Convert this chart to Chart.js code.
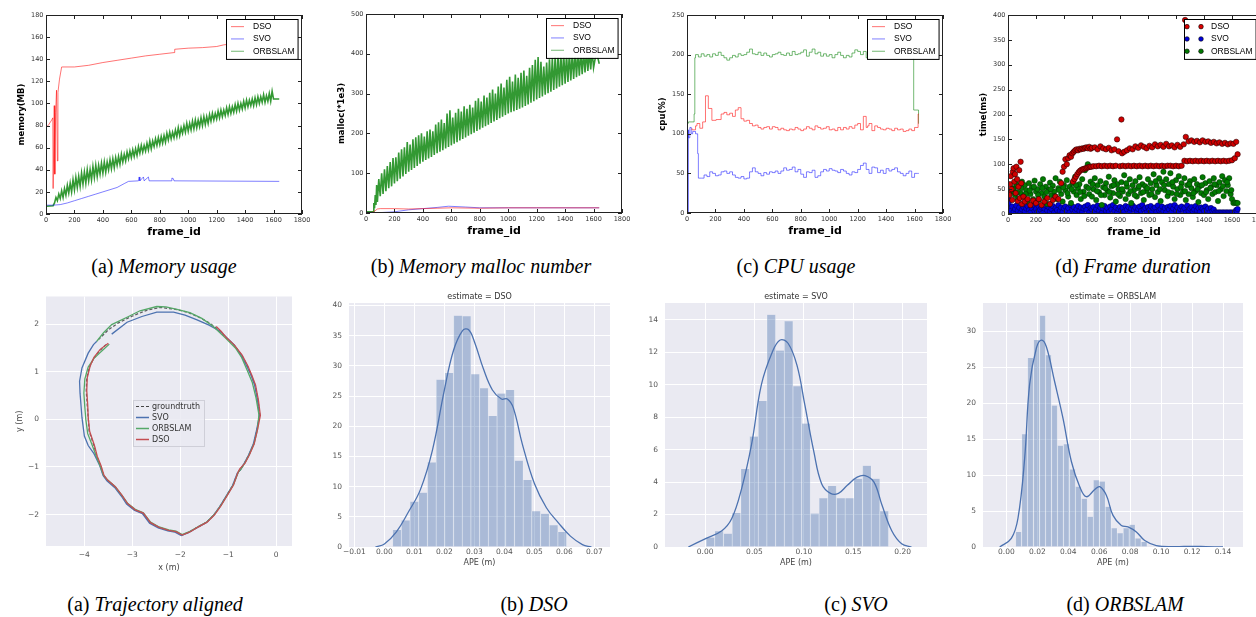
<!DOCTYPE html>
<html>
<head>
<meta charset="utf-8">
<script src="https://cdn.jsdelivr.net/npm/chart.js@4.4.1/dist/chart.umd.min.js"></script>
<style>
  body { margin: 0; width: 1256px; height: 617px; overflow: hidden; background: #fff; position: relative; }
  canvas { position: absolute; }
  .cap { position: absolute; font-family: "Liberation Serif", serif; font-size: 20px; line-height: 22px;
         white-space: nowrap; transform: translateX(-50%); color: #000; }
</style>
</head>
<body>
<canvas id="memChart"></canvas>
<canvas id="mallocChart"></canvas>
<canvas id="cpuChart"></canvas>
<canvas id="timeChart"></canvas>
<canvas id="trajChart"></canvas>
<canvas id="dsoChart"></canvas>
<canvas id="svoChart"></canvas>
<canvas id="orbChart"></canvas>

<div class="cap" style="left:164px;top:255px">(a) <i>Memory usage</i></div>
<div class="cap" style="left:481px;top:255px">(b) <i>Memory malloc number</i></div>
<div class="cap" style="left:796px;top:255px">(c) <i>CPU usage</i></div>
<div class="cap" style="left:1133px;top:255px">(d) <i>Frame duration</i></div>
<div class="cap" style="left:155px;top:593px">(a) <i>Trajectory aligned</i></div>
<div class="cap" style="left:534px;top:593px">(b) <i>DSO</i></div>
<div class="cap" style="left:856px;top:593px">(c) <i>SVO</i></div>
<div class="cap" style="left:1125px;top:593px">(d) <i>ORBSLAM</i></div>

<script>
// ---- top row data: [frame_id, value] ----
const frameTicks = [0, 200, 400, 600, 800, 1000, 1200, 1400, 1600, 1800];
const memTicks = [0, 20, 40, 60, 80, 100, 120, 140, 160, 180];
const mallocTicks = [0, 100, 200, 300, 400, 500];
const cpuTicks = [0, 50, 100, 150, 200, 250];
const timeTicks = [0, 50, 100, 150, 200, 250, 300, 350, 400];

const memDso = [[0,78],[20,81],[40,85],[48,87],[50,23],[58,98],[62,36],[68,92],[74,112],[80,48],[84,110],[95,122],[110,133],
  [200,133],[300,134.5],[400,137],[500,139],[600,141],[700,143],[800,144.5],[900,146],[905,149],[1000,150],[1100,150.5],
  [1200,151.5],[1250,153],[1400,155],[1640,158]];
const memSvo = [[0,8],[50,8],[100,8.5],[150,10],[200,12],[250,14],[300,16],[350,18],[400,20],[450,22],[500,24],[550,27.5],
  [580,29.5],[650,30],[655,33.5],[660,30],[685,33.5],[690,30],[720,33.5],[725,30],[880,30],[885,32.5],[895,32],[900,30],[1640,29.5]];
const memOrb = [[0,7],[50,7.5],[60,10],[70,15],[80,12],[90,18],[100,14],[110,21],[120,15],[130,23],[140,17],[150,26],
  [160,19],[170,28],[180,20],[190,31],[200,22],[210,33],[220,24],[230,34],[240,25],[250,37],[260,27],[270,38],[280,28],
  [290,40],[300,30],[310,40],[320,31],[330,43],[340,33],[350,44],[360,34],[370,44],[380,36],[390,46],[400,37],[410,47],
  [420,38],[430,47],[440,40],[450,49],[460,41],[470,50],[480,42],[490,51],[500,44],[510,52],[520,45],[530,54],[540,47],
  [550,54],[560,48],[570,56],[580,50],[590,57],[600,51],[610,58],[620,52],[630,59],[640,53],[650,61],[660,55],[670,62],
  [680,56],[690,62],[700,57],[710,64],[720,58],[730,66],[740,59],[750,66],[760,61],[770,68],[780,62],[790,69],[800,63],
  [810,70],[820,64],[830,71],[840,65],[850,73],[860,67],[870,74],[880,68],[890,74],[900,69],[910,76],[920,70],[930,78],
  [940,71],[950,78],[960,73],[970,80],[980,74],[990,82],[1000,75],[1010,82],[1020,76],[1030,84],[1040,77],[1050,85],
  [1060,78],[1070,85],[1080,79],[1090,87],[1100,80],[1110,88],[1120,81],[1130,88],[1140,82],[1150,90],[1160,84],[1170,91],
  [1180,85],[1190,91],[1200,86],[1210,93],[1220,87],[1230,94],[1240,88],[1250,94],[1260,89],[1270,96],[1280,90],[1290,97],
  [1300,91],[1310,97],[1320,92],[1330,99],[1340,93],[1350,100],[1360,94],[1370,100],[1380,95],[1390,102],[1400,96],
  [1410,103],[1420,97],[1430,103],[1440,98],[1450,104],[1460,98],[1470,105],[1480,99],[1490,106],[1500,100],[1510,106],
  [1520,101],[1530,108],[1540,101],[1550,107],[1560,102],[1570,109],[1580,102],[1590,111],[1600,104],[1640,104]];

const mallocDso = [[0,0],[50,2],[80,10],[100,11],[200,11],[300,10],[400,11],[500,12],[600,13],[800,12],[1000,13],[1200,13],[1400,13],[1640,13]];
const mallocSvo = [[0,0],[50,0],[100,1],[200,3],[300,8],[400,11],[500,14],[580,17],[700,15],[800,13],[1000,13],[1640,13]];
const mallocOrb = [[0,3],[50,3],[55,25],[60,12],[65,45],[70,20],[75,70],[80,28],[90,85],[100,42],[110,100],[120,48],
  [130,110],[140,55],[150,118],[160,62],[170,128],[180,67],[190,138],[200,74],[210,140],[220,80],[230,152],[240,86],
  [250,160],[260,92],[270,165],[280,98],[290,178],[300,104],[310,172],[320,108],[330,185],[340,113],[350,190],[360,118],
  [370,195],[380,124],[390,200],[400,129],[410,192],[420,133],[430,205],[440,137],[450,210],[460,141],[470,205],[480,146],
  [490,222],[500,150],[510,228],[520,154],[530,235],[540,158],[550,226],[560,162],[570,250],[580,166],[590,258],[600,170],
  [610,240],[620,174],[630,252],[640,178],[650,262],[660,182],[670,255],[680,186],[690,268],[700,190],[710,262],[720,194],
  [730,272],[740,198],[750,265],[760,202],[770,282],[780,206],[790,288],[800,210],[810,280],[820,214],[830,295],[840,218],
  [850,290],[860,222],[870,302],[880,226],[890,310],[900,230],[910,300],[920,234],[930,318],[940,238],[950,325],[960,242],
  [970,315],[980,246],[990,335],[1000,250],[1010,342],[1020,253],[1030,330],[1040,256],[1050,348],[1060,259],[1070,340],
  [1080,262],[1090,352],[1100,265],[1110,358],[1120,269],[1130,345],[1140,273],[1150,365],[1160,277],[1170,372],[1180,281],
  [1190,385],[1200,285],[1210,392],[1220,289],[1230,380],[1240,293],[1250,368],[1260,297],[1270,378],[1280,301],[1290,386],
  [1300,305],[1310,390],[1320,309],[1330,395],[1340,313],[1350,398],[1360,317],[1370,400],[1380,321],[1390,402],[1400,325],
  [1410,398],[1420,329],[1430,404],[1440,333],[1450,402],[1460,337],[1470,406],[1480,341],[1490,404],[1500,345],[1510,407],
  [1520,349],[1530,405],[1540,353],[1550,408],[1560,357],[1570,406],[1580,361],[1590,410],[1600,365],[1620,405],[1640,375]];

const cpuDso = [[35,107],[60,105],[70,110],[90,113],[110,107],[130,115],[150,148],[175,132],[205,117],[240,118],[260,125],
  [280,127],[300,124],[320,126],[340,122],[360,130],[380,133],[400,119],[420,116],[440,117],[460,113],[480,110],[500,111],
  [520,108],[540,106],[560,108],[580,109],[600,106],[620,109],[640,108],[660,105],[680,107],[700,105],[720,104],[740,106],
  [760,105],[780,108],[800,106],[820,104],[840,106],[860,109],[880,107],[900,105],[920,110],[940,108],[960,106],[980,107],
  [1000,109],[1020,105],[1040,106],[1060,104],[1080,108],[1100,105],[1120,108],[1140,106],[1160,109],[1180,107],[1200,111],
  [1220,113],[1240,105],[1260,122],[1270,108],[1280,110],[1300,113],[1320,104],[1340,110],[1360,108],[1380,106],[1400,105],
  [1420,107],[1440,106],[1460,104],[1480,107],[1500,105],[1520,106],[1540,103],[1560,104],[1580,106],[1600,104],[1625,108],[1630,125]];
const cpuSvo = [[10,0],[11,105],[20,95],[30,108],[40,100],[60,103],[75,100],[80,75],[100,44],[120,44],[140,48],[160,46],
  [180,52],[200,50],[220,47],[240,48],[260,52],[280,53],[300,50],[320,52],[340,48],[360,45],[380,44],[400,46],[420,43],
  [440,44],[460,52],[480,57],[500,52],[520,50],[540,47],[560,51],[580,49],[600,52],[620,51],[640,53],[660,50],[680,53],
  [700,57],[720,54],[740,55],[760,58],[780,52],[800,55],[820,49],[840,45],[860,52],[880,51],[900,54],[920,45],[940,47],
  [960,52],[980,55],[1000,53],[1020,56],[1040,54],[1060,53],[1080,51],[1100,55],[1120,53],[1140,50],[1160,48],[1180,52],
  [1200,51],[1220,55],[1240,60],[1260,63],[1280,55],[1300,50],[1320,58],[1340,57],[1360,51],[1380,54],[1400,50],[1420,56],
  [1440,53],[1460,55],[1480,57],[1500,52],[1520,50],[1540,47],[1560,50],[1580,53],[1600,45],[1620,50],[1630,50]];
const cpuOrb = [[10,113],[50,115],[55,125],[60,196],[80,200],[100,197],[120,201],[140,198],[160,200],[180,197],[200,201],
  [220,199],[240,203],[260,199],[280,196],[300,193],[320,196],[340,199],[360,197],[380,201],[400,199],[420,200],[440,203],
  [460,207],[480,201],[500,200],[520,203],[540,199],[560,202],[580,199],[600,197],[620,200],[640,201],[660,203],[680,200],
  [700,199],[720,202],[740,199],[760,204],[780,200],[800,201],[820,203],[840,206],[860,198],[880,203],[900,207],[920,201],
  [940,203],[960,198],[980,201],[1000,198],[1020,200],[1040,196],[1060,200],[1080,203],[1100,199],[1120,196],[1140,199],
  [1160,197],[1180,202],[1200,206],[1220,204],[1240,200],[1260,204],[1280,196],[1300,201],[1340,199],[1400,202],[1460,198],
  [1520,201],[1594,200],[1595,130],[1628,130],[1630,113]];

const timeDso = [[5,45],[10,38],[15,60],[20,76],[25,50],[30,28],[35,85],[40,92],[45,65],[50,80],[55,42],[60,95],[65,70],
  [70,26],[75,55],[80,88],[85,32],[90,105],[95,62],[100,20],[110,35],[120,25],[140,30],[160,18],[180,27],[200,22],[220,30],
  [240,18],[260,25],[280,32],[300,20],[320,28],[340,35],[360,30],[380,62],[390,85],[400,95],[410,110],[420,100],[430,112],
  [440,118],[450,115],[460,122],[464,65],[470,125],[475,70],[480,128],[485,75],[490,130],[495,80],[500,128],[505,84],
  [510,131],[515,87],[520,130],[525,89],[530,132],[535,90],[540,131],[545,91],[550,133],[555,92],[560,134],[565,93],
  [570,132],[575,94],[580,135],[585,95],[590,131],[595,95],[600,133],[610,96],[620,134],[630,96],[640,130],[650,97],
  [660,136],[670,96],[680,132],[690,97],[700,130],[710,96],[720,133],[730,97],[740,128],[750,96],[760,130],[770,97],
  [779,150],[790,126],[800,96],[810,190],[815,122],[820,97],[830,125],[840,96],[850,128],[860,97],[870,132],[880,96],
  [890,130],[900,97],[910,136],[920,96],[930,133],[940,97],[950,138],[960,96],[970,135],[980,97],[990,132],[1000,96],
  [1010,137],[1020,97],[1030,134],[1040,96],[1050,140],[1060,97],[1070,136],[1080,96],[1090,139],[1100,97],[1110,135],
  [1120,96],[1130,141],[1140,97],[1150,136],[1160,97],[1170,138],[1180,96],[1190,134],[1200,97],[1210,139],[1220,96],
  [1230,135],[1240,97],[1255,140],[1260,107],[1265,390],[1270,155],[1280,106],[1290,146],[1300,107],[1310,148],[1320,106],
  [1330,145],[1340,107],[1350,147],[1360,106],[1370,144],[1380,107],[1390,148],[1400,106],[1410,145],[1420,107],[1430,146],
  [1440,106],[1450,143],[1460,107],[1470,145],[1480,106],[1490,142],[1500,107],[1510,144],[1520,106],[1530,141],[1540,107],
  [1550,143],[1560,106],[1570,140],[1580,107],[1590,142],[1600,108],[1610,141],[1620,112],[1630,145],[1640,120]];
const timeSvo = [[0,30],[5,22],[10,12],[20,6],[30,15],[40,4],[50,10],[60,17],[70,7],[80,13],[90,3],[100,9],
  [110,14],[120,5],[130,11],[140,16],[150,8],[160,3],[170,12],[180,18],[190,6],[200,10],
  [210,4],[220,15],[230,9],[240,13],[250,2],[260,11],[270,17],[280,7],[290,14],[300,5],
  [310,10],[320,16],[330,3],[340,12],[350,8],[360,18],[370,6],[380,13],[390,4],[400,11],
  [410,15],[420,7],[430,12],[440,3],[450,17],[460,9],[470,14],[480,5],[490,10],[500,16],
  [510,6],[520,13],[530,4],[540,11],[550,15],[560,8],[570,18],[580,3],[590,12],[600,9],
  [610,14],[620,5],[630,10],[640,17],[650,7],[660,13],[670,2],[680,11],[690,16],[700,6],
  [710,12],[720,4],[730,15],[740,9],[750,18],[760,6],[770,13],[780,3],[790,10],[800,14],
  [810,7],[820,12],[830,5],[840,16],[850,9],[860,14],[870,3],[880,11],[890,17],[900,8],
  [910,13],[920,4],[930,10],[940,15],[950,6],[960,18],[970,9],[980,12],[990,3],[1000,14],
  [1010,8],[1020,16],[1030,5],[1040,11],[1050,13],[1060,4],[1070,17],[1080,7],[1090,10],[1100,15],
  [1110,6],[1120,12],[1130,3],[1140,14],[1150,9],[1160,16],[1170,5],[1180,11],[1190,18],[1200,7],
  [1210,13],[1220,4],[1230,10],[1240,15],[1250,8],[1260,12],[1270,3],[1280,17],[1290,6],[1300,11],
  [1310,14],[1320,5],[1330,9],[1340,16],[1350,7],[1360,12],[1370,4],[1380,13],[1390,10],[1400,6],
  [1410,15],[1420,8],[1430,11],[1440,3],[1450,12],[1460,6],[1470,9],
  [1480,3],[1490,3],[1500,3],[1510,3],[1520,3],[1530,3],[1540,3],[1550,3],[1560,3],[1570,3],[1580,3],[1590,3],
  [1600,3],[1610,3],[1620,3],[1630,8],[1635,5],[1640,10]];
const timeOrb = [[30,45],[40,52],[50,38],[60,60],[70,30],[80,55],[90,42],[100,65],
  [110,35],[120,58],[130,48],[140,25],[150,62],[160,40],[170,53],[180,30],[190,67],[200,45],
  [210,50],[220,28],[230,60],[240,42],[250,70],[260,35],[270,55],[280,20],[290,48],[300,63],
  [310,38],[320,57],[330,45],[340,72],[350,30],[360,52],[370,65],[380,40],[390,25],[400,58],
  [410,48],[420,68],[430,35],[440,55],[450,22],[460,62],[470,45],[480,75],[490,38],[500,52],
  [510,60],[520,30],[530,70],[540,45],[550,88],[560,55],[570,100],[580,40],[590,65],[600,35],
  [610,50],[620,72],[630,28],[640,58],[650,44],[660,66],[670,18],[680,54],[690,38],[700,62],
  [710,47],[720,75],[730,33],[740,56],[750,42],[760,68],[770,25],[780,60],[790,50],[800,36],
  [810,64],[820,45],[830,78],[840,30],[850,55],[860,40],[870,70],[880,22],[890,58],[900,48],
  [910,66],[920,35],[930,52],[940,74],[950,42],[960,60],[970,28],[980,56],[990,46],[1000,70],
  [1010,38],[1020,62],[1030,50],[1040,80],[1050,34],[1060,58],[1070,44],[1080,72],[1090,26],[1100,64],
  [1110,85],[1120,48],[1130,70],[1140,36],[1150,60],[1160,82],[1170,42],[1180,55],[1190,30],[1200,68],
  [1210,50],[1220,76],[1230,38],[1240,62],[1250,45],[1260,72],[1270,28],[1280,58],[1290,40],[1300,66],
  [1310,52],[1320,34],[1330,70],[1340,46],[1350,60],[1360,24],[1370,56],[1380,42],[1390,74],[1400,38],
  [1410,62],[1420,48],[1430,30],[1440,66],[1450,54],[1460,40],[1470,72],[1480,44],[1490,58],[1500,26],
  [1510,64],[1520,50],[1530,76],[1540,36],[1550,68],[1560,46],[1570,58],[1580,72],[1590,40],[1600,30],
  [1610,22],[1620,23],[1630,22],[1640,22],
  [35,50],[65,44],[95,52],[125,40],[155,47],[185,55],[215,38],[245,52],[275,44],[305,50],[335,36],[365,48],
  [395,54],[425,42],[455,50],[485,58],[515,44],[545,36],[575,52],[605,60],[635,46],[665,38],[695,52],[725,44],
  [755,58],[785,40],[815,50],[845,62],[875,46],[905,38],[935,56],[965,44],[995,52],[1025,40],[1055,66],[1085,50],
  [1115,58],[1145,44],[1175,64],[1205,40],[1235,54],[1265,46],[1295,60],[1325,42],[1355,50],[1385,58],[1415,44],
  [1445,52],[1475,60],[1505,46],[1535,56],[1565,64],[1595,48]];

// ---- bottom row data ----
const trajXTicks = [-4, -3, -2, -1, 0];
const trajYTicks = [-2, -1, 0, 1, 2];
const trajGt = [[-3.55,1.57],[-3.70,1.42],[-3.82,1.25],[-3.90,1.08],[-3.95,0.87],[-3.96,0.60],[-3.94,0.30],[-3.92,0.04],
  [-3.90,-0.25],[-3.80,-0.55],[-3.74,-0.78],[-3.66,-0.98],[-3.60,-1.18],[-3.52,-1.28],[-3.36,-1.42],[-3.22,-1.60],
  [-3.11,-1.77],[-2.95,-1.90],[-2.78,-1.97],[-2.63,-2.17],[-2.45,-2.27],[-2.25,-2.33],[-2.10,-2.36],[-1.97,-2.43],
  [-1.82,-2.37],[-1.65,-2.27],[-1.45,-2.16],[-1.30,-2.01],[-1.17,-1.83],[-1.02,-1.58],[-0.90,-1.38],[-0.80,-1.12],
  [-0.74,-1.05],[-0.66,-0.92],[-0.57,-0.75],[-0.47,-0.52],[-0.40,-0.22],[-0.34,0.08],[-0.38,0.40],[-0.44,0.72],
  [-0.52,0.93],[-0.60,1.12],[-0.72,1.35],[-0.88,1.56],[-1.05,1.72],[-1.20,1.88],[-1.40,2.03],[-1.62,2.15],[-1.85,2.25],
  [-2.10,2.31],[-2.42,2.35],[-2.70,2.29],[-3.00,2.17],[-3.30,2.02],[-3.50,1.88],[-3.70,1.68]];
const trajSvo = [[-3.74,1.64],[-3.81,1.57],[-3.92,1.39],[-4.05,1.08],[-4.10,0.80],[-4.09,0.55],[-4.05,0.04],[-4.00,-0.35],
  [-3.92,-0.55],[-3.80,-0.72],[-3.68,-0.97],[-3.61,-1.18],[-3.53,-1.29],[-3.37,-1.43],[-3.23,-1.61],[-3.12,-1.78],
  [-2.96,-1.91],[-2.79,-1.98],[-2.64,-2.18],[-2.46,-2.28],[-2.26,-2.34],[-2.11,-2.37],[-1.98,-2.44],[-1.83,-2.38],
  [-1.66,-2.28],[-1.46,-2.17],[-1.31,-2.02],[-1.18,-1.84],[-1.03,-1.59],[-0.91,-1.39],[-0.81,-1.13],[-0.75,-1.06],
  [-0.67,-0.93],[-0.58,-0.76],[-0.48,-0.53],[-0.41,-0.23],[-0.35,0.07],[-0.39,0.40],[-0.45,0.72],[-0.53,0.94],
  [-0.62,1.13],[-0.74,1.36],[-0.88,1.57],[-1.17,1.85],[-1.40,1.98],[-1.65,2.09],[-1.90,2.19],[-2.14,2.25],[-2.49,2.25],
  [-2.80,2.16],[-3.11,2.04],[-3.43,1.79]];
const trajOrb = [[-3.48,1.58],[-3.62,1.45],[-3.80,1.28],[-3.92,1.10],[-3.99,0.85],[-4.01,0.55],[-3.99,0.25],[-3.97,0.00],
  [-3.93,-0.30],[-3.83,-0.56],[-3.75,-0.78],[-3.67,-0.98],[-3.60,-1.17],[-3.52,-1.27],[-3.36,-1.41],[-3.22,-1.59],
  [-3.10,-1.76],[-2.94,-1.89],[-2.77,-1.96],[-2.62,-2.16],[-2.44,-2.26],[-2.24,-2.32],[-2.09,-2.35],[-1.96,-2.42],
  [-1.81,-2.36],[-1.64,-2.26],[-1.44,-2.15],[-1.29,-2.00],[-1.16,-1.82],[-1.01,-1.57],[-0.89,-1.37],[-0.79,-1.11],
  [-0.73,-1.04],[-0.65,-0.91],[-0.56,-0.74],[-0.46,-0.51],[-0.39,-0.21],[-0.36,0.10],[-0.42,0.45],[-0.50,0.78],
  [-0.60,1.02],[-0.72,1.30],[-0.85,1.50],[-1.05,1.70],[-1.31,1.95],[-1.55,2.12],[-1.80,2.24],[-2.07,2.31],[-2.30,2.36],
  [-2.49,2.37],[-2.84,2.28],[-3.10,2.15],[-3.43,1.99],[-3.60,1.82],[-3.74,1.64]];
const trajDso = [[-3.50,1.60],[-3.67,1.47],[-3.80,1.30],[-3.88,1.12],[-3.94,0.87],[-3.95,0.60],[-3.93,0.30],[-3.92,0.04],
  [-3.89,-0.25],[-3.79,-0.55],[-3.73,-0.78],[-3.65,-0.98],[-3.59,-1.18],[-3.51,-1.28],[-3.35,-1.42],[-3.21,-1.60],
  [-3.10,-1.77],[-2.94,-1.90],[-2.77,-1.97],[-2.62,-2.17],[-2.44,-2.27],[-2.24,-2.33],[-2.09,-2.36],[-1.96,-2.43],
  [-1.81,-2.37],[-1.64,-2.27],[-1.44,-2.16],[-1.29,-2.01],[-1.16,-1.83],[-1.01,-1.58],[-0.89,-1.38],[-0.80,-1.12],
  [-0.76,-1.04],[-0.65,-0.92],[-0.56,-0.75],[-0.46,-0.52],[-0.39,-0.22],[-0.33,0.08],[-0.37,0.40],[-0.43,0.72],
  [-0.51,0.93],[-0.59,1.12],[-0.71,1.35],[-0.87,1.56],[-1.04,1.72],[-1.15,1.85],[-1.25,1.95]];

const dsoXTicks = [-0.01, 0.00, 0.01, 0.02, 0.03, 0.04, 0.05, 0.06, 0.07];
const dsoYTicks = [0, 5, 10, 15, 20, 25, 30, 35, 40];
const dsoBins = [0.0042, 0.0071, 0.0100, 0.0129, 0.0158, 0.0187, 0.0216, 0.0245, 0.0274, 0.0303,
                 0.0332, 0.0361, 0.0390, 0.0419, 0.0448, 0.0477, 0.0506, 0.0535, 0.0564, 0.0593];
const dsoCounts = [2.8, 4.4, 7.5, 9.0, 14.0, 27.7, 28.8, 38.3, 38.2, 28.6, 26.3, 21.7, 25.4, 26.0, 14.3, 11.1, 5.9, 5.5, 3.6, 2.5];
const dsoKde = [[-0.003,0],[0.000,0.5],[0.004,2.5],[0.008,5.8],[0.012,9.5],[0.016,16],[0.020,26],[0.023,32.5],[0.026,35.8],
  [0.028,36],[0.030,34],[0.033,29.5],[0.036,26],[0.039,24.5],[0.041,24.5],[0.043,23],[0.046,17],[0.050,10.5],[0.054,6.5],
  [0.058,4],[0.062,1.8],[0.066,0.4],[0.069,0]];

const svoXTicks = [0.00, 0.05, 0.10, 0.15, 0.20];
const svoYTicks = [0, 2, 4, 6, 8, 10, 12, 14];
const svoBins = [0.0054, 0.0142, 0.0230, 0.0318, 0.0406, 0.0494, 0.0582, 0.0670, 0.0758, 0.0846, 0.0934,
                 0.1022, 0.1110, 0.1198, 0.1286, 0.1374, 0.1462, 0.1550, 0.1638, 0.1726, 0.1814];
const svoCounts = [0.58, 0.97, 0.82, 2.1, 4.8, 6.8, 9.0, 14.3, 12.1, 13.9, 9.9, 7.6, 2.06, 3.0, 3.75, 3.0, 3.0, 4.2, 5.0, 4.2, 2.2];
const svoKde = [[-0.017,0],[0.000,0.5],[0.017,1.0],[0.027,1.75],[0.037,3.6],[0.047,6.3],[0.057,10.0],[0.068,12.0],
  [0.076,12.75],[0.084,12.55],[0.093,11.2],[0.101,8.75],[0.110,5.9],[0.118,3.9],[0.127,3.3],[0.135,3.3],[0.144,3.8],
  [0.154,4.3],[0.162,4.4],[0.171,4.0],[0.179,2.6],[0.189,1.0],[0.199,0.2],[0.209,0]];

const orbXTicks = [0.00, 0.02, 0.04, 0.06, 0.08, 0.10, 0.12, 0.14];
const orbYTicks = [0, 5, 10, 15, 20, 25, 30];
const orbBins = [0.0079, 0.0118, 0.0156, 0.0195, 0.0234, 0.0272, 0.0311, 0.0349, 0.0388, 0.0427, 0.0465,
                 0.0504, 0.0542, 0.0581, 0.0620, 0.0658, 0.0697, 0.0735, 0.0774, 0.0813, 0.0851, 0.0890];
const orbCounts = [2.1, 15.7, 26.3, 28.8, 32.2, 26.7, 19.7, 14.1, 14.3, 10.8, 8.4, 6.7, 4.2, 9.3, 9.1, 5.6, 2.6, 1.9, 2.6, 3.1, 1.2, 0.7];
const orbKde = [[-0.0043,0],[0.0032,1.2],[0.0075,4.0],[0.0118,12.3],[0.015,22.6],[0.0194,27.7],[0.0226,28.8],[0.0258,27.9],
  [0.0312,23.0],[0.0366,17.9],[0.042,11.9],[0.0474,8.4],[0.0517,7.0],[0.0571,8.0],[0.0603,8.4],[0.0646,7.2],[0.0689,4.4],
  [0.0743,3.0],[0.0786,2.8],[0.084,2.1],[0.0894,0.9],[0.0969,0.2],[0.1077,0.05],[0.1206,0.1],[0.129,0.05],[0.14,0]];

// ---- helpers ----
Chart.defaults.font.family = 'DejaVu Sans';
Chart.defaults.animation = false;
Chart.defaults.events = [];
Chart.defaults.plugins.legend.display = false;
Chart.defaults.plugins.tooltip.enabled = false;

const pts = arr => arr.map(p => ({ x: p[0], y: p[1] }));
const minus = v => (v < 0 ? '\u2212' : '') + Math.abs(v);
const fmt2 = v => (v < 0 ? '\u2212' : '') + Math.abs(v).toFixed(2);

// classic matplotlib box + inward ticks
Chart.register({
  id: 'mplFrame',
  afterDatasetsDraw(chart, args, o) {
    if (!o.on) return;
    const { ctx, chartArea: a, scales: { x, y } } = chart;
    ctx.save();
    ctx.strokeStyle = '#222';
    ctx.lineWidth = 1;
    ctx.strokeRect(Math.round(a.left) + 0.5, Math.round(a.top) + 0.5, Math.round(a.right - a.left) - 1, Math.round(a.bottom - a.top) - 1);
    ctx.beginPath();
    x.ticks.forEach(t => {
      const px = Math.round(x.getPixelForValue(t.value)) + 0.5;
      ctx.moveTo(px, a.bottom); ctx.lineTo(px, a.bottom - 4);
      ctx.moveTo(px, a.top); ctx.lineTo(px, a.top + 4);
    });
    y.ticks.forEach(t => {
      const py = Math.round(y.getPixelForValue(t.value)) + 0.5;
      ctx.moveTo(a.left, py); ctx.lineTo(a.left + 4, py);
      ctx.moveTo(a.right, py); ctx.lineTo(a.right - 4, py);
    });
    ctx.stroke();
    ctx.restore();
  }
});

// seaborn darkgrid background and axes title
Chart.register({
  id: 'sbBack',
  beforeDraw(chart, args, o) {
    if (!o.on) return;
    const { ctx, chartArea: a } = chart;
    ctx.save();
    ctx.fillStyle = '#EAEAF2';
    ctx.fillRect(a.left, a.top, a.right - a.left, a.bottom - a.top);
    ctx.restore();
  },
  afterDraw(chart, args, o) {
    if (!o.title) return;
    const { ctx, chartArea: a } = chart;
    ctx.save();
    ctx.font = '8px "DejaVu Sans"';
    ctx.fillStyle = '#333';
    ctx.textAlign = 'center';
    ctx.textBaseline = 'middle';
    ctx.fillText(o.title, (a.left + a.right) / 2, a.top - 6.5);
    ctx.restore();
  }
});

// legend box drawn inside the axes
Chart.register({
  id: 'boxLegend',
  afterDraw(chart, args, o) {
    if (!o.items) return;
    const { ctx, chartArea: a } = chart;
    ctx.save();
    ctx.font = o.font;
    const tw = Math.max(...o.items.map(it => ctx.measureText(it.label).width));
    const w = o.textX + tw + o.padR;
    const h = o.rowH * o.items.length + o.padV * 2;
    const x0 = o.right != null ? Math.round(a.right - o.right - w) : Math.round(a.left + o.left);
    const y0 = Math.round(a.top + o.top);
    ctx.fillStyle = o.bg;
    ctx.fillRect(x0, y0, w, h);
    ctx.strokeStyle = o.edge;
    ctx.lineWidth = 1;
    ctx.strokeRect(x0 + 0.5, y0 + 0.5, w, h);
    o.items.forEach((it, i) => {
      const cy = y0 + o.padV + o.rowH * (i + 0.5);
      if (it.dots) {
        ctx.fillStyle = it.color;
        ctx.strokeStyle = 'rgba(0,0,0,0.6)';
        [o.sampleX, o.sampleX + o.sampleW].forEach(dx => {
          ctx.beginPath(); ctx.arc(x0 + dx, cy, 2.3, 0, Math.PI * 2); ctx.fill(); ctx.stroke();
        });
      } else {
        ctx.strokeStyle = it.color;
        ctx.lineWidth = it.width || 1;
        ctx.setLineDash(it.dash || []);
        ctx.beginPath(); ctx.moveTo(x0 + o.sampleX, cy); ctx.lineTo(x0 + o.sampleX + o.sampleW, cy); ctx.stroke();
        ctx.setLineDash([]);
      }
      ctx.fillStyle = o.color;
      ctx.textBaseline = 'middle';
      ctx.fillText(it.label, x0 + o.textX, cy);
    });
    ctx.restore();
  }
});

// size & place a canvas so that its plot area lands on box
function place(id, box, yW, padTop, padRight, xH) {
  const c = document.getElementById(id);
  c.width = box.r - box.l + yW + padRight;
  c.height = box.b - box.t + padTop + xH;
  c.style.left = (box.l - yW) + 'px';
  c.style.top = (box.t - padTop) + 'px';
  return c;
}

const RED = 'rgba(255,0,0,0.55)', BLUE = 'rgba(0,0,255,0.5)', GREEN = 'rgba(0,128,0,0.55)';
const topLegend = (dots) => ({
  font: '8.5px "Liberation Sans"', color: '#000', bg: '#fff', edge: '#000',
  right: 4, top: 3.5, rowH: 12.3, padV: 1.5, padR: 3,
  sampleX: dots ? 3 : 5, sampleW: dots ? 14 : 13, textX: 27,
  items: [
    { label: 'DSO', color: dots ? '#dd0000' : RED, dots },
    { label: 'SVO', color: dots ? '#0000dd' : BLUE, dots },
    { label: 'ORBSLAM', color: dots ? '#007a00' : GREEN, dots }
  ]
});

function topScales(yTicks, yTitle) {
  const tickFont = { family: 'DejaVu Sans', size: 6.5 };
  return {
    x: {
      type: 'linear', min: frameTicks[0], max: frameTicks[frameTicks.length - 1],
      afterBuildTicks: s => { s.ticks = frameTicks.map(v => ({ value: v })); },
      afterFit: s => { s.height = 27; },
      grid: { display: false, drawTicks: false }, border: { display: false },
      ticks: { font: tickFont, color: '#333', padding: 2, maxRotation: 0, autoSkip: false, callback: v => String(v) },
      title: { display: true, text: 'frame_id', color: '#000', padding: { top: 0, bottom: 2 },
               font: { family: 'DejaVu Sans', size: 11, weight: 'bold' } }
    },
    y: {
      type: 'linear', min: yTicks[0], max: yTicks[yTicks.length - 1],
      afterBuildTicks: s => { s.ticks = yTicks.map(v => ({ value: v })); },
      afterFit: s => { s.width = 33; },
      grid: { display: false, drawTicks: false }, border: { display: false },
      ticks: { font: tickFont, color: '#333', padding: 2.5, callback: v => String(v) },
      title: { display: true, text: yTitle, color: '#000', padding: { top: 4, bottom: 0 },
               font: { family: 'DejaVu Sans', size: 8.5, weight: 'bold' } }
    }
  };
}

const lineDs = (label, data, color, stepped, width) => ({
  label, data: pts(data), borderColor: color, borderWidth: width || 1, pointRadius: 0, fill: false,
  tension: 0, stepped: stepped || false
});
const dotDs = (label, data, color, edge) => ({
  label, data: pts(data), backgroundColor: color, borderColor: edge, borderWidth: 0.8,
  pointRadius: 2.7, showLine: false
});

// (a) memory
new Chart(place('memChart', { l: 46, t: 15, r: 302, b: 214 }, 33, 10, 14, 27), {
  type: 'line',
  data: { datasets: [lineDs('DSO', memDso, RED), lineDs('SVO', memSvo, BLUE), lineDs('ORBSLAM', memOrb, 'rgba(0,128,0,0.8)', false, 1.6)] },
  options: { responsive: false, layout: { padding: { top: 10, right: 14, left: 0, bottom: 0 } },
    scales: topScales(memTicks, 'memory(MB)'),
    plugins: { mplFrame: { on: true }, boxLegend: topLegend(false) } }
});

// (b) malloc
new Chart(place('mallocChart', { l: 366, t: 14, r: 622, b: 213 }, 33, 10, 14, 27), {
  type: 'line',
  data: { datasets: [lineDs('DSO', mallocDso, RED), lineDs('SVO', mallocSvo, BLUE), lineDs('ORBSLAM', mallocOrb, 'rgba(0,128,0,0.8)', false, 1.6)] },
  options: { responsive: false, layout: { padding: { top: 10, right: 14, left: 0, bottom: 0 } },
    scales: topScales(mallocTicks, 'malloc(*1e3)'),
    plugins: { mplFrame: { on: true }, boxLegend: topLegend(false) } }
});

// (c) cpu
new Chart(place('cpuChart', { l: 687, t: 15, r: 943, b: 213 }, 33, 10, 14, 27), {
  type: 'line',
  data: { datasets: [lineDs('DSO', cpuDso, RED, 'after'), lineDs('SVO', cpuSvo, BLUE, 'after'), lineDs('ORBSLAM', cpuOrb, GREEN, 'after')] },
  options: { responsive: false, layout: { padding: { top: 10, right: 14, left: 0, bottom: 0 } },
    scales: topScales(cpuTicks, 'cpu(%)'),
    plugins: { mplFrame: { on: true }, boxLegend: topLegend(false) } }
});

// (d) frame duration
new Chart(place('timeChart', { l: 1008, t: 15, r: 1260, b: 214 }, 33, 10, 14, 27), {
  type: 'scatter',
  data: { datasets: [
    { ...dotDs('SVO', timeSvo, '#0000dd', 'rgba(0,0,60,0.6)'), order: 3 },
    { ...dotDs('ORBSLAM', timeOrb, '#007a00', 'rgba(0,40,0,0.6)'), order: 2 },
    { ...dotDs('DSO', timeDso, '#d00000', 'rgba(40,0,0,0.75)'), order: 1 }
  ] },
  options: { responsive: false, layout: { padding: { top: 10, right: 14, left: 0, bottom: 0 } },
    scales: topScales(timeTicks, 'time(ms)'),
    plugins: { mplFrame: { on: true }, boxLegend: topLegend(true) } }
});

// ---- bottom row ----
const sbTickFont = { family: 'DejaVu Sans', size: 7.5 };
function sbScales(xTicks, yTicks, xr, yr, xFmt, xTitle, yTitle, yW, xH, xPad) {
  return {
    x: {
      type: 'linear', min: xr[0], max: xr[1], offset: false,
      afterBuildTicks: s => { s.ticks = xTicks.map(v => ({ value: v })); },
      afterFit: s => { s.height = xH; },
      grid: { color: '#fff', lineWidth: 1, drawTicks: false, offset: false }, border: { display: false },
      ticks: { font: sbTickFont, color: '#555', padding: xPad, maxRotation: 0, autoSkip: false, callback: xFmt },
      title: { display: !!xTitle, text: xTitle, color: '#444', padding: { top: 0, bottom: 2 },
               font: { family: 'DejaVu Sans', size: 8 } }
    },
    y: {
      type: 'linear', min: yr[0], max: yr[1],
      afterBuildTicks: s => { s.ticks = yTicks.map(v => ({ value: v })); },
      afterFit: s => { s.width = yW; },
      grid: { color: '#fff', lineWidth: 1, drawTicks: false }, border: { display: false },
      ticks: { font: sbTickFont, color: '#555', padding: 7, callback: v => minus(v) },
      title: { display: !!yTitle, text: yTitle, color: '#444', padding: { top: 2, bottom: 0 },
               font: { family: 'DejaVu Sans', size: 8 } }
    }
  };
}

// (a) trajectory
const trajDs = (label, data, color, order, dash) => ({
  label, data: pts(data), showLine: true, borderColor: color, borderWidth: 1.3, pointRadius: 0,
  borderDash: dash || [], tension: 0, order
});
new Chart(place('trajChart', { l: 46, t: 295, r: 292, b: 546 }, 33, 10, 10, 29), {
  type: 'scatter',
  data: { datasets: [
    trajDs('groundtruth', trajGt, 'rgba(60,60,60,0.8)', 4, [3, 2]),
    trajDs('SVO', trajSvo, '#4C72B0', 3),
    trajDs('ORBSLAM', trajOrb, '#55A868', 2),
    trajDs('DSO', trajDso, '#C44E52', 1)
  ] },
  options: { responsive: false, layout: { padding: { top: 10, right: 10, left: 0, bottom: 0 } },
    scales: sbScales(trajXTicks, trajYTicks, [-4.8, 0.33], [-2.66, 2.58], v => minus(v), 'x (m)', 'y (m)', 33, 29, 5),
    plugins: { sbBack: { on: true },
      boxLegend: { font: '8px "DejaVu Sans"', color: '#333', bg: 'rgba(234,234,242,0.85)', edge: '#cfcfd8',
        left: 87, top: 103, rowH: 11, padV: 1, padR: 4, sampleX: 3, sampleW: 13, textX: 19,
        items: [
          { label: 'groundtruth', color: '#444', dash: [3, 2] },
          { label: 'SVO', color: '#4C72B0', width: 1.5 },
          { label: 'ORBSLAM', color: '#55A868', width: 1.5 },
          { label: 'DSO', color: '#C44E52', width: 1.5 }
        ] } } }
});

// histograms with kde
function histChart(id, box, bins, counts, kde, xTicks, yTicks, xr, yr, title) {
  new Chart(place(id, box, 30, 16, 12, 23), {
    type: 'bar',
    data: { datasets: [
      { type: 'line', data: pts(kde), borderColor: '#4C72B0', borderWidth: 1.3, pointRadius: 0, tension: 0.4, order: 1 },
      { type: 'bar', data: bins.map((b, i) => ({ x: b, y: counts[i] })), backgroundColor: 'rgba(76,114,176,0.4)',
        borderColor: 'rgba(255,255,255,0.55)', borderWidth: { left: 0.5, right: 0.5, top: 0, bottom: 0 },
        barPercentage: 1, categoryPercentage: 1, order: 2 }
    ] },
    options: { responsive: false, layout: { padding: { top: 16, right: 12, left: 0, bottom: 0 } },
      scales: sbScales(xTicks, yTicks, xr, yr, fmt2, 'APE (m)', '', 30, 23, 1),
      plugins: { sbBack: { on: true, title } } }
  });
}

histChart('dsoChart', { l: 349, t: 303, r: 610, b: 547 }, dsoBins, dsoCounts, dsoKde, dsoXTicks, dsoYTicks,
  [-0.0118, 0.0752], [0, 40.4], 'estimate = DSO');
histChart('svoChart', { l: 665, t: 303, r: 927, b: 547 }, svoBins, svoCounts, svoKde, svoXTicks, svoYTicks,
  [-0.0406, 0.2247], [0, 15.03], 'estimate = SVO');
histChart('orbChart', { l: 983, t: 303, r: 1243, b: 547 }, orbBins, orbCounts, orbKde, orbXTicks, orbYTicks,
  [-0.0151, 0.1529], [0, 33.96], 'estimate = ORBSLAM');
</script>
</body>
</html>
